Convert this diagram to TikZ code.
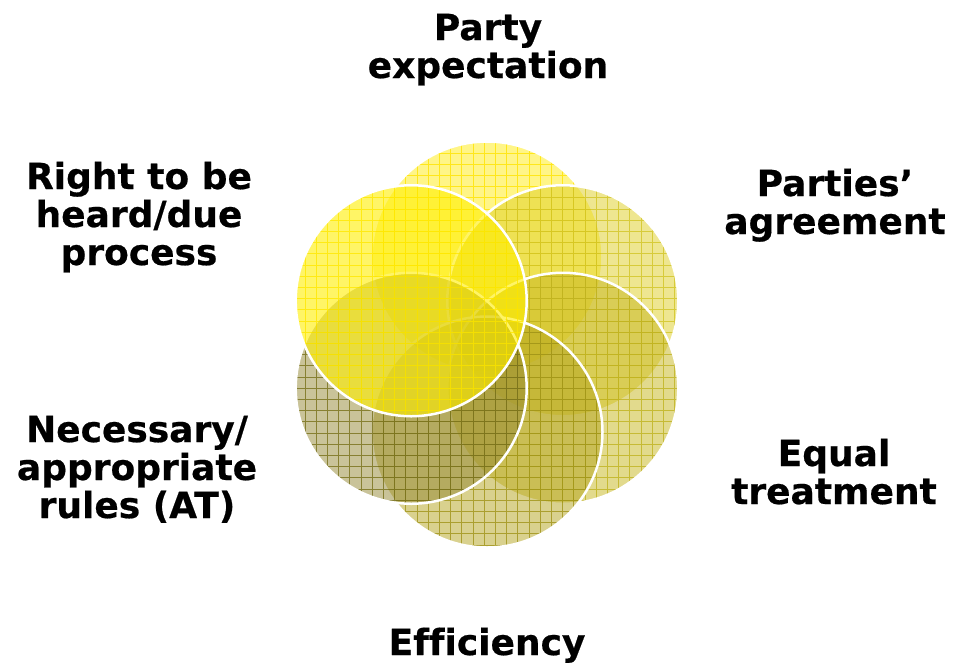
\documentclass[tikz,border=0pt]{standalone}
\usepackage{fontspec}
\newfontfamily\lblfont{DejaVu Sans Bold}[FakeBold=0.5,Ligatures=NoCommon]
\definecolor{fillA}{HTML}{FFEB10}
\definecolor{gridA}{HTML}{FFE400}
\definecolor{fillB}{HTML}{DDCD22}
\definecolor{gridB}{HTML}{D2C424}
\definecolor{fillC}{HTML}{C5B51C}
\definecolor{gridC}{HTML}{C0B220}
\definecolor{fillD}{HTML}{B3A31E}
\definecolor{gridD}{HTML}{A09418}
\definecolor{fillE}{HTML}{938733}
\definecolor{gridE}{HTML}{77701A}
\definecolor{fillF}{HTML}{FFEE00}
\definecolor{gridF}{HTML}{FFE800}
\begin{document}
\begin{tikzpicture}[x=1pt,y=-1pt,
  lbl/.style={font=\lblfont\fontsize{36}{38}\selectfont, align=center, inner sep=0pt, anchor=base},
  ringline/.style={draw=white, line width=2.5pt}]
\useasboundingbox (0,0) rectangle (954,665);
\newcommand\vennring[5]{%
  \fill[#2, fill opacity=#3] #1 circle[radius=115.5];
  \begin{scope}
    \clip #1 circle[radius=115.5];
    \draw[#4, line width=1pt, draw opacity=#5, shift={(282.6,130.6)}] (0,0) grid[step=11.2pt] (415,440);
  \end{scope}
  \draw[ringline] #1 circle[radius=115.5];
}
\vennring{(487,257)}{fillA}{0.5}{gridA}{0.8}
\vennring{(562.8,300.75)}{fillB}{0.5}{gridB}{0.8}
\vennring{(562.8,388.25)}{fillC}{0.5}{gridC}{0.8}
\vennring{(487,432)}{fillD}{0.5}{gridD}{0.8}
\vennring{(411.2,388.25)}{fillE}{0.5}{gridE}{0.8}
\vennring{(411.2,300.75)}{fillF}{0.6}{gridF}{0.8}
% anchor=base is the baseline of the last line
\node[lbl] (pe) at (488,78) {Party\\expectation};
\node[lbl] (rh) at (139,265) {Right to be\\heard/due\\process};
\node[lbl] (pa) at (835,234) {Parties’\\agreement};
\node[lbl] (eq) at (834,504) {Equal\\treatment};
\node[lbl] (na) at (137,518) {Necessary/\\appropriate\\rules (AT)};
\node[lbl] (ef) at (487,655) {Efficiency};
\end{tikzpicture}
\end{document}
